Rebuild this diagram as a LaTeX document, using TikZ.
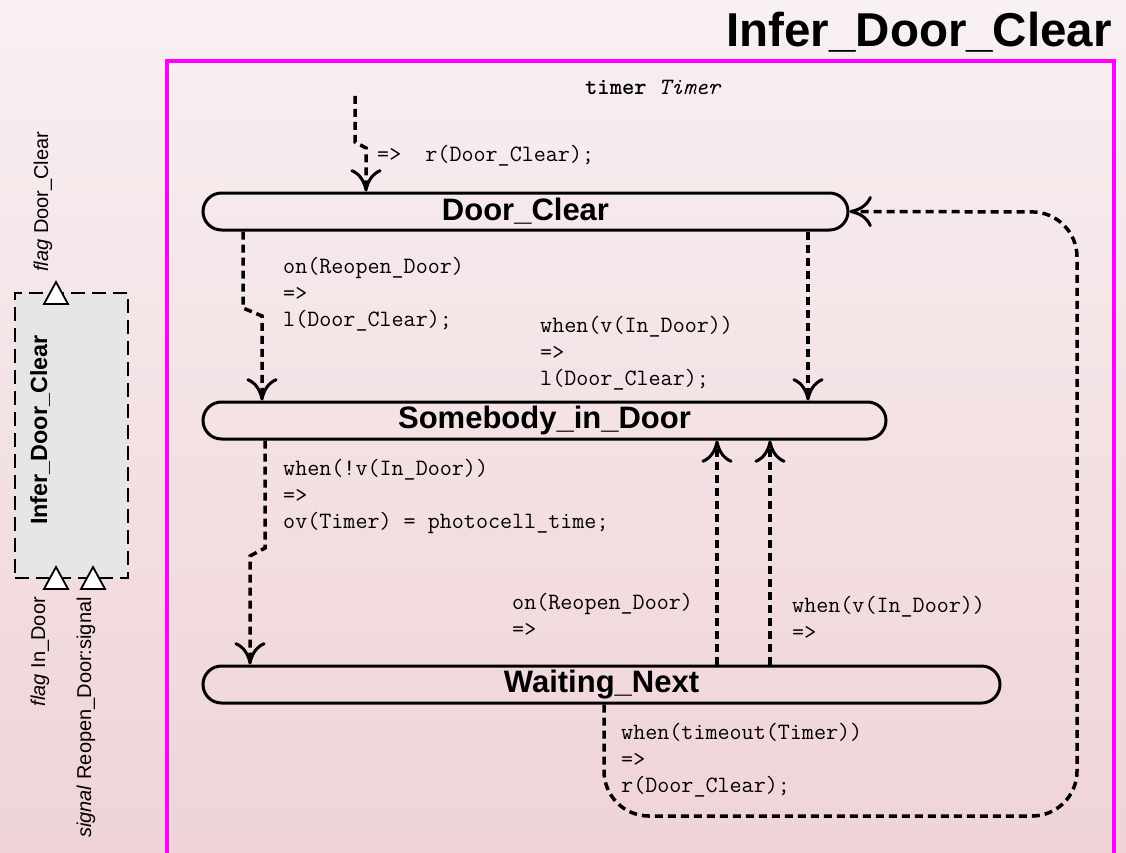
\documentclass[tikz,border=0pt]{standalone}
\usepackage{fontspec}
\setsansfont{Liberation Sans}
\usetikzlibrary{arrows.meta}

\definecolor{bgtop}{RGB}{248,240,241}
\definecolor{bgbot}{RGB}{239,211,216}
\definecolor{framecol}{RGB}{255,0,255}
\definecolor{compfill}{RGB}{230,230,230}

\begin{document}
\begin{tikzpicture}[x=1pt,y=-1pt,
  state/.style={draw, line width=3pt, rounded corners=18.5pt, minimum height=37pt,
    inner sep=0pt, font=\sffamily\bfseries\fontsize{31}{31}\selectfont},
  trans/.style={line width=3.5pt, dash pattern=on 8pt off 5pt,
    -{Computer Modern Rightarrow[scale length=2.4, scale width=1.6, line width=3pt]}},
  guard/.style={anchor=north west, inner sep=0pt, align=left,
    font=\fontsize{23.4}{26.5}\selectfont\ttfamily},
  portlabel/.style={rotate=90, inner sep=0pt, font=\sffamily\fontsize{20}{20}\selectfont},
  port/.pic={\draw[fill=white, line width=1.8pt] (-12,11) -- (0,-11) -- (12,11) -- cycle;}
]
% canvas and background
\useasboundingbox (0,0) rectangle (1126,853);
\shade[top color=bgtop, bottom color=bgbot] (0,0) rectangle (1126,853);

% chart frame and title
\draw[framecol, line width=4pt] (167,870) -- (167,61) -- (1114,61) -- (1114,870);
\node[anchor=base east, inner sep=0pt, font=\sffamily\bfseries\fontsize{47.5}{47.5}\selectfont]
  (title) at (1112,47) {Infer\_Door\_Clear};

% component symbol with its ports
\node[draw, dash pattern=on 14pt off 7pt, line width=2pt, fill=compfill,
  minimum width=113pt, minimum height=285pt, inner sep=0pt] (comp) at (71.5,435.5) {};
\node[rotate=90, inner sep=0pt, font=\sffamily\bfseries\fontsize{23.4}{23.4}\selectfont]
  (compname) at (40,430) {Infer\_Door\_Clear};
\pic at (56,293) {port};
\pic at (56,578) {port};
\pic at (93,578) {port};
\node[portlabel, anchor=west] (pout) at (43,272) {\textit{flag} Door\_Clear};
\node[portlabel, anchor=east] (pin1) at (40,597) {\textit{flag} In\_Door};
\node[portlabel, anchor=east] (pin2) at (86,597) {\textit{signal} Reopen\_Door:signal};

% declarations
\node[anchor=base west, inner sep=0pt, font=\fontsize{23.4}{26.5}\selectfont\ttfamily]
  (decl) at (585,95) {\textbf{timer} \textit{Timer}};

% states
\node[state, minimum width=645pt] (dc)  at (525.5,211.5) {Door\_Clear};
\node[state, minimum width=683pt] (sid) at (544.5,420.5) {Somebody\_in\_Door};
\node[state, minimum width=797pt] (wn)  at (601.5,684.5) {Waiting\_Next};

% transitions
\coordinate (init) at (355,96);
\draw[trans] (init) -- (355,142) -- (366,148) -- (366,0 |- dc.north);
\draw[trans] (243,0 |- dc.south) -- (243,308) -- (262,316) -- (262,0 |- sid.north);
\draw[trans] (808,0 |- dc.south) -- (808,0 |- sid.north);
\draw[trans] (265,0 |- sid.south) -- (265,548) -- (250,556) -- (250,0 |- wn.north);
\draw[trans] (717,0 |- wn.north) -- (717,0 |- sid.south);
\draw[trans] (770,0 |- wn.north) -- (770,0 |- sid.south);
\draw[trans, rounded corners=45pt] (604,0 |- wn.south) -- (604,816) -- (1077,816)
  -- (1077,212) -- (dc.east);

% transition labels
\node[guard] (g1) at (377,145.5) {=>\ \ r(Door\_Clear);};
\node[guard] (g2) at (283,257.5) {on(Reopen\_Door)\\=>\\l(Door\_Clear);};
\node[guard] (g3) at (540,316.5) {when(v(In\_Door))\\=>\\l(Door\_Clear);};
\node[guard] (g4) at (283,459.5) {when(!v(In\_Door))\\=>\\ov(Timer) = photocell\_time;};
\node[guard] (g5) at (512,593.5) {on(Reopen\_Door)\\=>};
\node[guard] (g6) at (792,596.5) {when(v(In\_Door))\\=>};
\node[guard] (g7) at (621,723.5) {when(timeout(Timer))\\=>\\r(Door\_Clear);};
\end{tikzpicture}
\end{document}
